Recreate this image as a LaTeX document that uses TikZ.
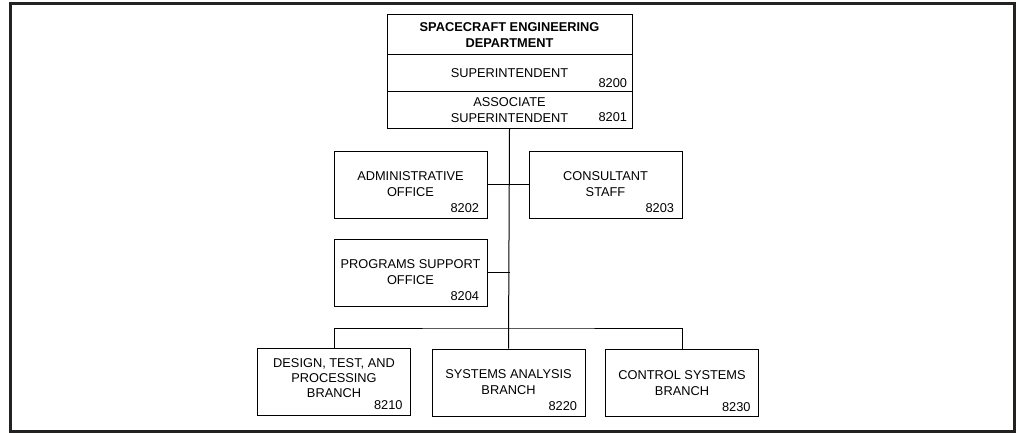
\documentclass[tikz,border=0pt]{standalone}
\usepackage{fontspec}
\setmainfont{Liberation Sans}
\usetikzlibrary{positioning}
\tikzset{every picture/.style={
    every path/.style={line width=1pt},
}}
\tikzset{unit/.style = {draw, align=center, inner sep=0pt,
                        minimum width=153pt, minimum height=67pt,
                        font=\fontsize{12.8}{16}\selectfont}}
\tikzset{top/.style = {unit, minimum width=245pt}}
\tikzset{code/.style = {anchor=south east, inner xsep=8pt, inner ysep=5pt,
                        font=\fontsize{12.8}{16}\selectfont}}
\definecolor{frame}{rgb}{0.14, 0.13, 0.13}

\begin{document}
\begin{tikzpicture}[x=1pt, y=-1pt]

      \useasboundingbox (0,0) rectangle (1016,433);
      \draw[line width=2.6pt, frame] (10.5,3.8) rectangle (1014.5,431.5);

      % department head
      \node[top, minimum height=40pt, font=\fontsize{12.8}{16}\bfseries]
        (dept) at (509.5,35) {SPACECRAFT ENGINEERING\\DEPARTMENT};
      \node[top, minimum height=37pt,
            label={[code, inner xsep=5pt, inner ysep=4pt]south east:8200}]
        (sup) at (509.5,73.5) {SUPERINTENDENT};
      \node[top, minimum height=36pt,
            label={[code, inner xsep=5pt, inner ysep=6pt]south east:8201}]
        (assoc) at (509.5,110) {ASSOCIATE\\SUPERINTENDENT};

      % staff offices
      \node[unit, label={[code]south east:8202}]
        (admin) at (410.5,184.5) {ADMINISTRATIVE\\OFFICE};
      \node[unit, label={[code]south east:8203}]
        (consult) at (605.5,184.5) {CONSULTANT\\STAFF};
      \node[unit, label={[code]south east:8204}]
        (progs) at (410.5,272.5) {PROGRAMS SUPPORT\\OFFICE};

      % branches
      \node[unit, font=\fontsize{12.8}{15}\selectfont, label={[code]south east:8210}]
        (design) at (334,381.5) {DESIGN, TEST, AND\\PROCESSING\\BRANCH\\[-7.5pt]};
      \node[unit, label={[code]south east:8220}]
        (sysan) at (508.5,382.5) {SYSTEMS ANALYSIS\\BRANCH};
      \node[unit, label={[code]south east:8230}]
        (control) at (682,383) {CONTROL SYSTEMS\\BRANCH};

      \coordinate (bus) at (508.5,328);

      \draw (assoc.south) -- (sysan.north);
      \draw (admin.east) -- (consult.west);
      \draw (progs.east) -- (progs.east -| assoc.south);
      \draw (design.north) |- (bus) -| (control.north);

\end{tikzpicture}
\end{document}
